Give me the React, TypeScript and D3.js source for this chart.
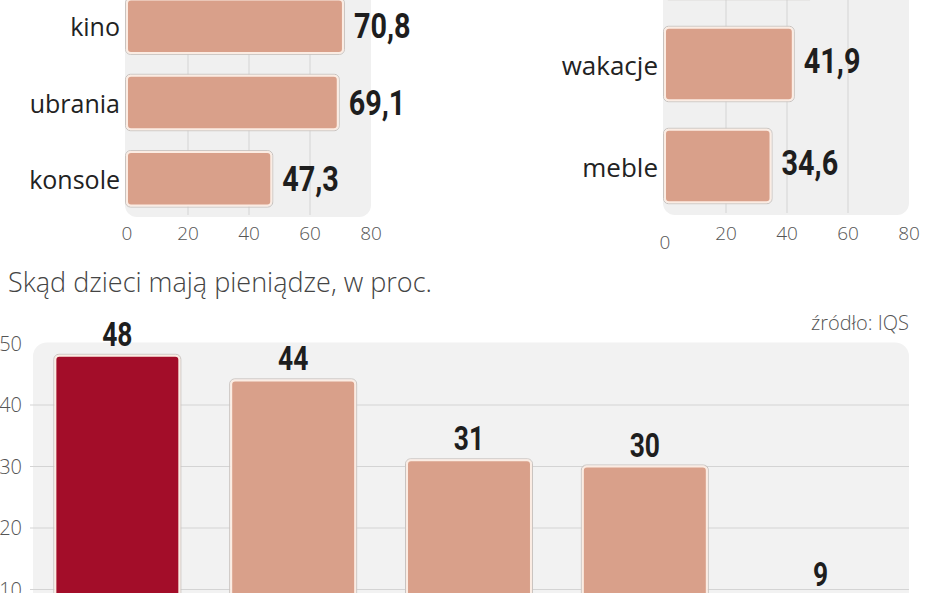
import React, { Component } from 'react'
import * as d3 from 'd3'

// top-left panel (cut off at top of picture)
const spendCategories = ['kino', 'ubrania', 'konsole']
const spendValues = [70.8, 69.1, 47.3]

// top-right panel; first bar is cut off, its label is out of view
const wishCategories = ['', 'wakacje', 'meble']
const wishValues = [48.5, 41.9, 34.6]

const xTicks = [0, 20, 40, 60, 80]

// bottom chart: categories are below the visible area
const sourceKeys = ['a', 'b', 'c', 'd', 'e']
const sourceValues = [48, 44, 31, 30, 9]
const yTicks = [10, 20, 30, 40, 50]

const title = 'Skąd dzieci mają pieniądze, w proc.'
const source = 'źródło: IQS'

const SALMON = '#d9a08a'
const RED = '#a30d29'
const PANEL = '#f0f0f0'
const GRID = '#d4d4d4'
const LABEL_FONT = "'Open Sans', 'DejaVu Sans', sans-serif"
const VALUE_FONT = "'Roboto', 'DejaVu Sans', sans-serif"

class App extends Component {
  ref = React.createRef<SVGSVGElement>()

  componentDidMount() {
    this.drawChart()
  }

  drawBar(g: any, x: number, y: number, w: number, h: number, fill: string) {
    g.append('rect')
      .attr('x', x - 1.5).attr('y', y - 1.5)
      .attr('width', w + 3).attr('height', h + 3)
      .attr('rx', 5)
      .attr('fill', 'none')
      .attr('stroke', '#c9c3bf')
      .attr('stroke-width', 1)
    g.append('rect')
      .attr('x', x).attr('y', y)
      .attr('width', w).attr('height', h)
      .attr('rx', 4)
      .attr('fill', fill)
      .attr('stroke', '#fbece3')
      .attr('stroke-width', 2)
  }

  // bold condensed number, squeezed horizontally
  valueText(g: any, x: number, y: number, size: number, anchor: string, txt: string) {
    g.append('text')
      .attr('transform', `translate(${x},${y}) scale(0.8,1)`)
      .attr('text-anchor', anchor)
      .attr('font-family', VALUE_FONT)
      .attr('font-weight', 'bold')
      .attr('font-size', size)
      .attr('fill', '#1e1e1e')
      .text(txt)
  }

  drawHBars(svg: any, cats: string[], vals: number[], opts: any) {
    const x = d3.scaleLinear().domain([0, 80]).range([opts.x0, opts.x0 + 244])
    const y = d3.scaleBand()
      .domain(cats)
      .range(opts.yRange)
      .paddingInner(opts.pad)
      .paddingOuter(opts.pad / 2)

    const g = svg.append('g')

    g.append('rect')
      .attr('x', opts.x0 - 2)
      .attr('y', -20)
      .attr('width', 246)
      .attr('height', opts.panelBottom + 20)
      .attr('rx', 12)
      .attr('fill', PANEL)

    g.selectAll('.grid')
      .data([20, 40, 60])
      .enter()
      .append('line')
      .attr('x1', (d: number) => x(d)).attr('x2', (d: number) => x(d))
      .attr('y1', -20).attr('y2', opts.panelBottom - 2)
      .attr('stroke', GRID)
      .attr('stroke-width', 1)

    cats.forEach((c, i) => {
      this.drawBar(g, x(0), y(c)!, x(vals[i]) - x(0), y.bandwidth(), SALMON)
      if (!c) return
      const cy = y(c)! + y.bandwidth() / 2
      g.append('text')
        .attr('x', opts.x0 - 7)
        .attr('y', cy + opts.catDy)
        .attr('text-anchor', 'end')
        .attr('font-family', LABEL_FONT)
        .attr('font-size', opts.catSize)
        .attr('fill', '#222')
        .text(c)
      this.valueText(g, x(vals[i]) + 11, cy + opts.valDy, 36, 'start',
        d3.format('.1f')(vals[i]).replace('.', ','))
    })

    g.selectAll('.tick')
      .data(xTicks)
      .enter()
      .append('text')
      .attr('x', (d: number) => x(d))
      .attr('y', (d: number) => (d === 0 && opts.zeroLow ? 249 : 240))
      .attr('text-anchor', 'middle')
      .attr('font-family', LABEL_FONT)
      .attr('font-weight', 300)
      .attr('font-size', 19)
      .attr('fill', '#555')
      .text((d: number) => d)
  }

  drawChart() {
    const svg = d3.select(this.ref.current)
    svg.selectAll('*').remove()

    this.drawHBars(svg, spendCategories, spendValues, {
      x0: 127, yRange: [-12, 217], pad: 0.3, panelBottom: 217,
      catDy: 10, catSize: 25, valDy: 12, zeroLow: false,
    })
    this.drawHBars(svg, wishCategories, wishValues, {
      x0: 665, yRange: [-89, 217], pad: 0.29, panelBottom: 215,
      catDy: 11, catSize: 26, valDy: 9, zeroLow: true,
    })

    // title + source
    svg.append('text')
      .attr('x', 8).attr('y', 292)
      .attr('font-family', LABEL_FONT)
      .attr('font-weight', 300)
      .attr('font-size', 27)
      .attr('fill', '#444')
      .text(title)

    svg.append('text')
      .attr('x', 909).attr('y', 330)
      .attr('text-anchor', 'end')
      .attr('font-family', LABEL_FONT)
      .attr('font-weight', 300)
      .attr('font-size', 20)
      .attr('fill', '#555')
      .text(source)

    // bottom column chart
    const x = d3.scaleBand()
      .domain(sourceKeys)
      .range([29, 909])
      .paddingInner(0.295)
      .paddingOuter(0.15)
    const y = d3.scaleLinear().domain([0, 50]).range([651, 343.5])

    const g = svg.append('g')
    g.append('rect')
      .attr('x', 33).attr('y', y(50) - 1)
      .attr('width', 876).attr('height', 300)
      .attr('rx', 14)
      .attr('fill', '#f2f2f2')

    g.selectAll('.hgrid')
      .data(yTicks.filter(d => d < 50))
      .enter()
      .append('line')
      .attr('x1', 30).attr('x2', 909)
      .attr('y1', (d: number) => y(d)).attr('y2', (d: number) => y(d))
      .attr('stroke', GRID)
      .attr('stroke-width', 1.2)

    g.selectAll('.ylab')
      .data(yTicks)
      .enter()
      .append('text')
      .attr('x', 22)
      .attr('y', (d: number) => y(d))
      .attr('dy', '0.35em')
      .attr('text-anchor', 'end')
      .attr('font-family', LABEL_FONT)
      .attr('font-weight', 300)
      .attr('font-size', 20)
      .attr('fill', '#555')
      .text((d: number) => d)

    sourceKeys.forEach((k, i) => {
      this.drawBar(g, x(k)!, y(sourceValues[i]), x.bandwidth(), y(0) - y(sourceValues[i]), i === 0 ? RED : SALMON)
      this.valueText(g, x(k)! + x.bandwidth() / 2, y(sourceValues[i]) - 10, 33, 'middle',
        String(sourceValues[i]))
    })
  }

  render() {
    return (
      <div style={{ position: 'fixed', left: 0, top: 0, background: '#fff' }}>
        <svg ref={this.ref} width={948} height={593} style={{ display: 'block' }} />
      </div>
    )
  }
}

export default App
